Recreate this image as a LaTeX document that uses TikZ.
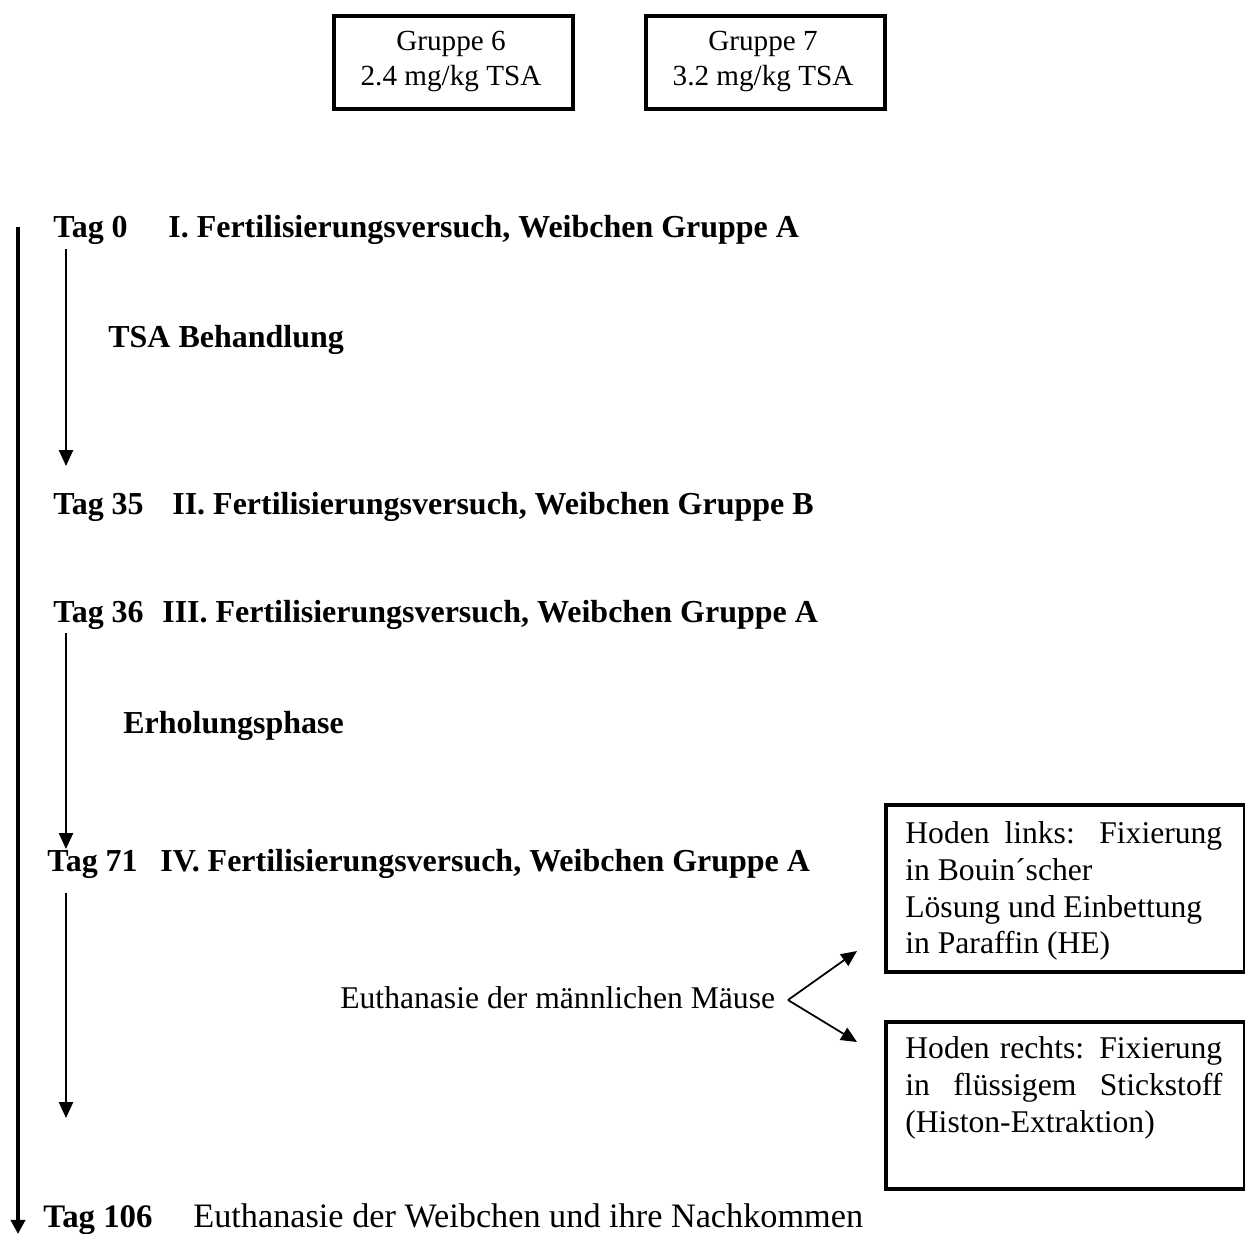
\documentclass[tikz,border=0pt]{standalone}
\usepackage{fontspec}
\setmainfont{Liberation Serif}
\usetikzlibrary{arrows.meta}
\begin{document}
\begin{tikzpicture}[x=0.02cm,y=-0.02cm,
  every node/.style={inner sep=0pt, font=\fontsize{18}{20.5}\selectfont},
  lbl/.style={anchor=base west},
  cl/.style={anchor=base, font=\fontsize{16.6}{19}\selectfont},
  bl/.style={anchor=base west, font=\fontsize{18.2}{20.5}\selectfont\bfseries},
  thickbox/.style={draw, line width=2.2pt, anchor=north west},
  thinarr/.style={line width=1pt, -{Triangle[width=8pt,length=9pt]}},
  thickarr/.style={line width=2.2pt, -{Triangle[width=8pt,length=8pt]}}
]
\useasboundingbox (0,0) rectangle (1245,1234);

% top boxes
\node[thickbox, minimum width=4.78cm, minimum height=1.86cm] (g6) at (332,14) {};
\node[cl] (g6a) at (451,50) {Gruppe 6};
\node[cl] (g6b) at (451,85) {2.4 mg/kg TSA};
\node[thickbox, minimum width=4.78cm, minimum height=1.86cm] (g7) at (644,14) {};
\node[cl] (g7a) at (763,50) {Gruppe 7};
\node[cl] (g7b) at (763,85) {3.2 mg/kg TSA};

% timeline
\coordinate (ls) at (18,227);
\coordinate (le) at (18,1234);
\draw[thickarr] (ls) -- (le);

\node[bl] (t0) at (53,237) {Tag 0};
\node[bl] (t0b) at (168,237) {I. Fertilisierungsversuch, Weibchen Gruppe A};
\coordinate (a1s) at (66,249);
\coordinate (a1e) at (66,466);
\draw[thinarr] (a1s) -- (a1e);
\node[bl] (tsa) at (108,347) {TSA Behandlung};

\node[bl] (t35) at (53,514) {Tag 35};
\node[bl] (t35b) at (172,514) {II. Fertilisierungsversuch, Weibchen Gruppe B};

\node[bl] (t36) at (53,622) {Tag 36};
\node[bl] (t36b) at (162,622) {III. Fertilisierungsversuch, Weibchen Gruppe A};
\coordinate (a2s) at (66,633);
\coordinate (a2e) at (66,849);
\draw[thinarr] (a2s) -- (a2e);
\node[bl] (erh) at (123,733) {Erholungsphase};

\node[bl] (t71) at (47,871) {Tag 71};
\node[bl] (t71b) at (160,871) {IV. Fertilisierungsversuch, Weibchen Gruppe A};
\coordinate (a3s) at (66,893);
\coordinate (a3e) at (66,1118);
\draw[thinarr] (a3s) -- (a3e);

\node[lbl] (eum) at (340,1008) {Euthanasie der männlichen Mäuse};
\coordinate (fk) at (788,1000);
\coordinate (fu) at (857,951);
\coordinate (fd) at (857,1042);
\draw[thinarr] (fk) -- (fu);
\draw[thinarr] (fk) -- (fd);

% right boxes
\node[thickbox, minimum width=7.18cm, minimum height=3.34cm] (hl) at (884,803) {};
\node[lbl] (hl1) at (905,843) {\makebox[6.34cm][s]{Hoden links: Fixierung}};
\node[lbl] (hl2) at (905,880) {in Bouin´scher};
\node[lbl] (hl3) at (905,917) {Lösung und Einbettung};
\node[lbl] (hl4) at (905,953) {in Paraffin (HE)};

\node[thickbox, minimum width=7.18cm, minimum height=3.34cm] (hr) at (884,1020) {};
\node[lbl] (hr1) at (905,1058) {\makebox[6.34cm][s]{Hoden rechts: Fixierung}};
\node[lbl] (hr2) at (905,1095) {\makebox[6.34cm][s]{in flüssigem Stickstoff}};
\node[lbl] (hr3) at (905,1132) {(Histon-Extraktion)};

\node[bl, font=\fontsize{18.7}{21}\selectfont\bfseries] (t106) at (43,1227) {Tag 106};
\node[lbl, font=\fontsize{19.5}{22}\selectfont] (t106b) at (193,1227) {Euthanasie der Weibchen und ihre Nachkommen};
\end{tikzpicture}
\end{document}
